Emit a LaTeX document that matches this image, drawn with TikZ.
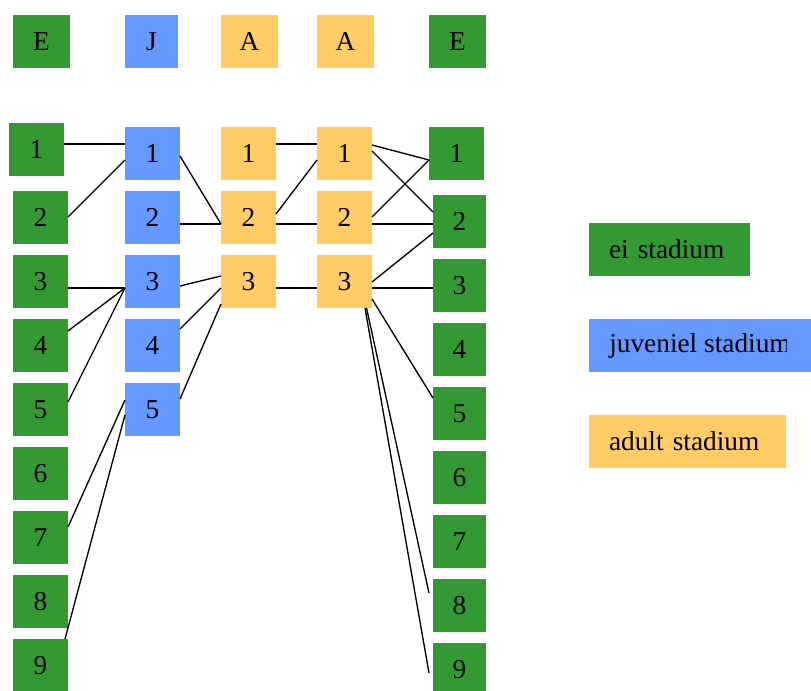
\documentclass[tikz,border=0pt]{standalone}
\usepackage{fontspec}
\setmainfont{Liberation Serif}
\usetikzlibrary{calc}
\definecolor{egreen}{RGB}{51,153,51}
\definecolor{jblue}{RGB}{102,153,255}
\definecolor{ayellow}{RGB}{255,204,102}
\newcommand\lblfont{\fontsize{20.5pt}{24pt}\selectfont}
\begin{document}
\begin{tikzpicture}[x=0.75pt,y=-0.75pt,
  cell/.style={inner sep=0pt, outer sep=0pt, minimum width=41.25pt, minimum height=39.75pt, font=\lblfont, text height=14pt, text depth=-1.5pt},
  head/.style={cell, minimum width=42.75pt},
  ecell/.style={cell, fill=egreen},
  jcell/.style={cell, fill=jblue},
  acell/.style={cell, fill=ayellow},
  legbox/.style={inner sep=0pt, outer sep=0pt, minimum height=39.75pt, font=\lblfont},
  link/.style={draw=black, line width=1pt}]
\useasboundingbox (0,0) rectangle (811,691);
% header
\node[head, fill=egreen] (HE1) at (41.5,41.5) {E};
\node[head, fill=jblue, minimum width=39.75pt] (HJ) at (151.5,41.5) {J};
\node[head, fill=ayellow] (HA1) at (249.5,41.5) {A};
\node[head, fill=ayellow] (HA2) at (345.5,41.5) {A};
\node[head, fill=egreen] (HE2) at (457.5,41.5) {E};
% left eggs
\node[ecell] (E1) at (36.5,149.5) {1};
\foreach \i/\y in {2/217.5,3/281.5,4/345.5,5/409.5,6/473.5,7/537.5,8/601.5,9/665.5}
  \node[ecell] (E\i) at (40.5,\y) {\i};
% juveniles
\foreach \i/\y in {1/153.5,2/217.5,3/281.5,4/345.5,5/409.5}
  \node[jcell] (J\i) at (152.5,\y) {\i};
% adults
\foreach \i/\y in {1/153.5,2/217.5,3/281.5}{
  \node[acell] (A\i) at (248.5,\y) {\i};
  \node[acell] (B\i) at (344.5,\y) {\i};
}
% right eggs
\node[ecell] (R1) at (456.5,153.5) {1};
\foreach \i/\y in {2/221.5,3/285.5,4/349.5,5/413.5,6/477.5,7/541.5,8/605.5,9/669.5}
  \node[ecell, minimum width=39.75pt] (R\i) at (459.5,\y) {\i};
% legend
\node[legbox, fill=egreen, minimum width=120.75pt, text width=90.75pt, inner xsep=15pt, align=left] (LE) at (669.5,249.5) {ei stadium};
\node[legbox, fill=jblue, minimum width=166.5pt] (LJ) at (700,345.5) {};
\begin{scope}
  \clip (589,319) rectangle (786,372);
  \node[inner sep=0pt, anchor=west, font=\lblfont] (LJt) at (609,345.5) {juveniel stadium};
\end{scope}
\node[legbox, fill=ayellow, minimum width=147.75pt, text width=117.75pt, inner xsep=15pt, align=left] (LA) at (687.5,441.5) {adult stadium};
% connectors left
\draw[link] ($(E1.east)+(0,-5.5)$) -- ($(J1.west)+(0,-9.5)$);
\draw[link] ($(E2.east)+(0,-0.5)$) -- ($(J1.west)+(0,6.5)$);
\draw[link] ($(E3.east)+(0,6.5)$) -- ($(J3.west)+(0,6.5)$);
\draw[link] ($(E4.east)+(0,-14.5)$) -- ($(J3.west)+(0,6.5)$);
\draw[link] ($(E5.east)+(0,-7.5)$) -- ($(J3.west)+(0,6.5)$);
\draw[link] ($(E7.east)+(0,-10.5)$) -- ($(J5.west)+(0,-9.5)$);
\draw[link] ($(E9.north east)+(-3,0)$) -- ($(J5.west)+(0,5.5)$);
% juvenile to adult
\draw[link] ($(J1.east)+(0,2.5)$) -- ($(A2.west)+(0,6.5)$);
\draw[link] ($(J2.east)+(0,6.5)$) -- ($(A2.west)+(0,6.5)$);
\draw[link] ($(J3.east)+(0,4.5)$) -- ($(A3.west)+(0,-5.5)$);
\draw[link] ($(J4.east)+(0,-16.5)$) -- ($(A3.west)+(0,6.5)$);
\draw[link] ($(J5.east)+(0,-10.5)$) -- ($(A3.west)+(0,22.5)$);
% adult to adult
\draw[link] ($(A1.east)+(0,-9.5)$) -- ($(B1.west)+(0,-9.5)$);
\draw[link] ($(A2.east)+(0,-3.5)$) -- ($(B1.west)+(0,6.5)$);
\draw[link] ($(A2.east)+(0,6.5)$) -- ($(B2.west)+(0,6.5)$);
\draw[link] ($(A3.east)+(0,6.5)$) -- ($(B3.west)+(0,6.5)$);
% adult to eggs
\draw[link] ($(B1.east)+(0,-8.5)$) -- ($(R1.west)+(0,6.5)$);
\draw[link] ($(B2.east)+(0,-0.5)$) -- ($(R1.west)+(0,6.5)$);
\draw[link] ($(B1.east)+(0,-2.5)$) -- ($(R2.west)+(0,-9.5)$);
\draw[link] ($(B2.east)+(0,6.5)$) -- ($(R2.west)+(0,2.5)$);
\draw[link] ($(B3.east)+(0,0.5)$) -- ($(R2.west)+(0,11.5)$);
\draw[link] ($(B3.east)+(0,6.5)$) -- ($(R3.west)+(0,2.5)$);
\draw[link] ($(B3.east)+(0,17.5)$) -- ($(R5.west)+(0,-15.5)$);
\draw[link] ($(B3.south east)+(-5.5,0)$) -- ($(R8.west)+(-4,-12.5)$);
\draw[link] ($(B3.south east)+(-7,0)$) -- ($(R9.west)+(-4,3.5)$);
\end{tikzpicture}
\end{document}
